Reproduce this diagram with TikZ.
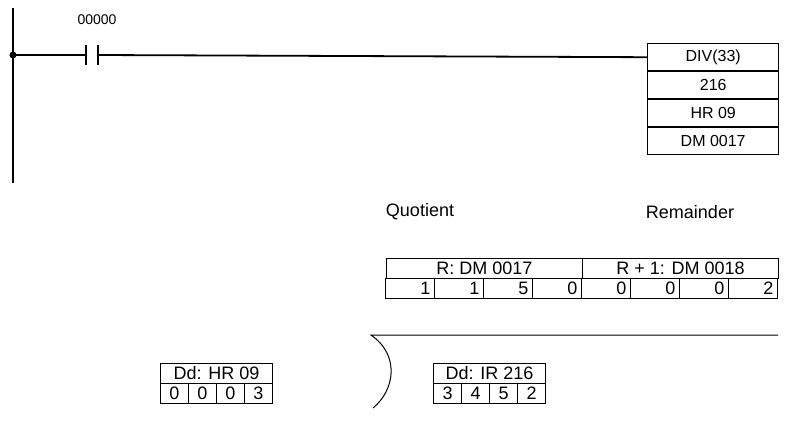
\documentclass[tikz,border=0pt]{standalone}
\usepackage{fontspec}
\setmainfont{Liberation Sans}
\usetikzlibrary{calc}
\usetikzlibrary{positioning}
\begin{document}
\begin{tikzpicture}[x=1pt,y=-1pt,line width=1pt,font=\fontsize{18}{20}\selectfont,
  cell/.style={draw,line width=1pt,minimum width=#1,minimum height=20pt,inner sep=0pt,anchor=north west},
  instr/.style={draw,line width=1.4pt,minimum width=131pt,minimum height=27pt,inner sep=0pt,anchor=north west,font=\fontsize{16}{18}\selectfont}]
  % Constants
  \pgfmathsetmacro\rung{55}
  \pgfmathsetmacro\cw{49}
  \pgfmathsetmacro\sw{28}
  % Boundary
  \path[use as bounding box] (0,0) rectangle (792,432);
  % Power rail
  \draw[line width=1.8pt] (13,8) -- (13,183);
  \fill (13,\rung) circle (3.5pt) coordinate (dot);
  % Contact
  \coordinate (cin) at (86,\rung);
  \coordinate (cout) at (98,\rung);
  \draw[line width=1.5pt] (86,45) -- (86,65);
  \draw[line width=1.5pt] (98,45) -- (98,65);
  \node (addr) at (97,20) {\fontsize{14}{16}\selectfont 00000};
  % Instruction block
  \node[instr] (op) at (647,43) {DIV(33)};
  \node[instr] (dd) at (647,71) {216};
  \node[instr] (dr) at (647,99) {HR 09};
  \node[instr] (res) at (647,127) {DM 0017};
  \draw[line width=1.8pt] (dot) -- (cin);
  \draw[line width=1.8pt] (cout) -- (op.west);
  % Result words
  \node (quot) at (420,212) {Quotient};
  \node (rem) at (690,212) {Remainder};
  \node[cell=4*\cw] (rw) at (386,258) {R: DM 0017};
  \node[cell=4*\cw] (rpw) at (386+4*\cw,258) {R + 1: DM 0018};
  \foreach \v [count=\i from 0] in {1,1,5,0,0,0,0,2}
    \node[cell=\cw,anchor=north east,inner xsep=4pt,text width=\cw-8,align=right] (q\i) at (386+\i*\cw+\cw,278) {\v};
  % Divisor and dividend
  \node[cell=4*\sw] (hr) at (160,363) {Dd: HR 09};
  \foreach \v [count=\i from 0] in {0,0,0,3}
    \node[cell=\sw] (h\i) at (160+\i*\sw,383) {\v};
  \node[cell=4*\sw] (ir) at (433,363) {Dd: IR 216};
  \foreach \v [count=\i from 0] in {3,4,5,2}
    \node[cell=\sw] (r\i) at (433+\i*\sw,383) {\v};
  % Division bracket
  \draw[line width=1pt] (778,335) -- (371,335) .. controls (400,355) and (395,390) .. (373,408);
\end{tikzpicture}
\end{document}
